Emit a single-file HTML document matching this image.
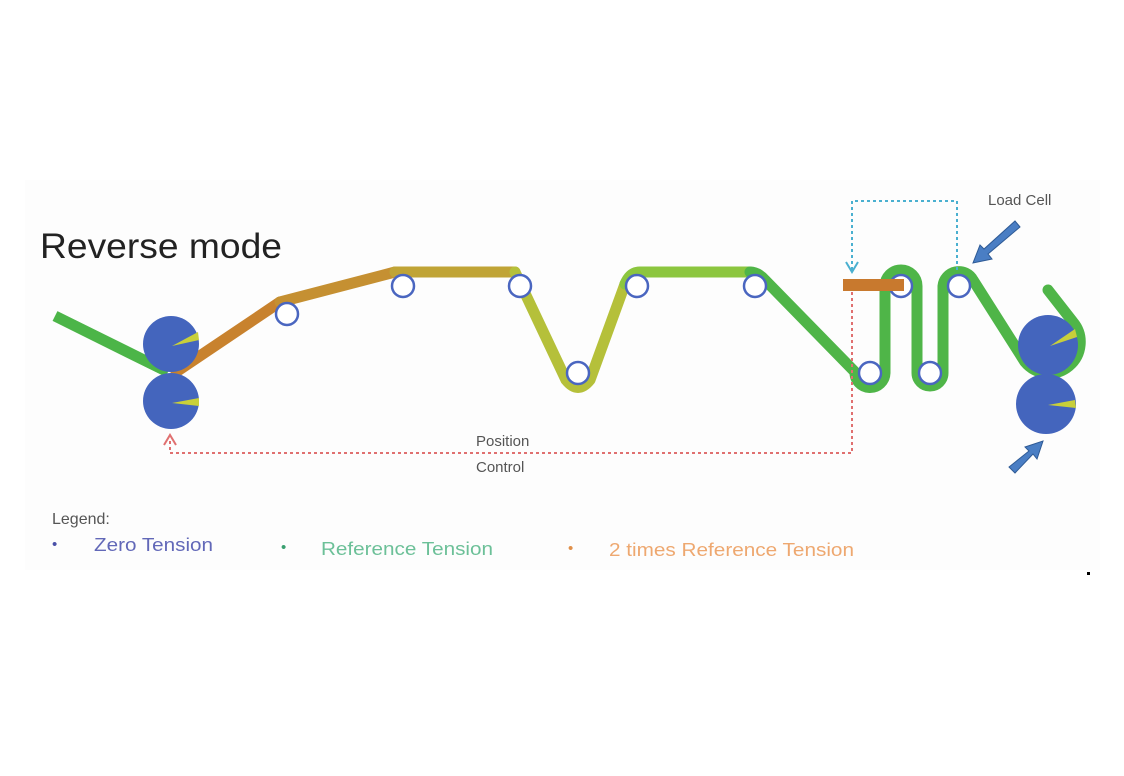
<!DOCTYPE html>
<html><head><meta charset="utf-8"><style>
html,body{margin:0;padding:0;background:#fff;}
svg{display:block}
text{font-family:"Liberation Sans",sans-serif}
</style></head><body>
<svg width="1124" height="776" viewBox="0 0 1124 776" xmlns="http://www.w3.org/2000/svg">
<rect width="1124" height="776" fill="#fff"/>
<rect x="25" y="180" width="1075" height="390" fill="#fdfdfd"/>
<text x="40" y="258" font-size="35" fill="#222" textLength="242" lengthAdjust="spacingAndGlyphs">Reverse mode</text>
<line x1="55" y1="316" x2="168" y2="372" stroke="#4cb548" stroke-width="11"/>
<g fill="none" stroke-width="11" stroke-linejoin="round" stroke-linecap="round">
<polyline points="176,372 280,302" stroke="#c8822e"/>
<polyline points="280,302 395,272" stroke="#c59032"/>
<polyline points="395,272 515,272" stroke="#c0a436"/>
<path d="M515,272 L566,380 Q578,395 590,380 L625,284" stroke="#b5c03a"/>
<path d="M625,284 Q630,272 640,272 L750,272" stroke="#8cc63f"/>
<path d="M750,272 Q758,272 765,280 L855,372 A15,15 0 0 0 885,373 L885,286 A16,16 0 0 1 917,286 L917,373 A13,13 0 0 0 943,373 L943,286 A16,16 0 0 1 973,280 L1025,362 A30,30 0 0 0 1073,322 L1048,290" stroke="#4fb548"/>
</g>
<g fill="#fff" stroke="#4a66c0" stroke-width="2.5">
<circle cx="287" cy="314" r="11"/><circle cx="403" cy="286" r="11"/><circle cx="520" cy="286" r="11"/>
<circle cx="578" cy="373" r="11"/><circle cx="637" cy="286" r="11"/><circle cx="755" cy="286" r="11"/>
<circle cx="870" cy="373" r="11"/><circle cx="901" cy="286" r="11"/><circle cx="930" cy="373" r="11"/><circle cx="959" cy="286" r="11"/>
</g>
<g fill="#4465bd">
<circle cx="171" cy="344" r="28"/><circle cx="171" cy="401" r="28"/>
<circle cx="1048" cy="345" r="30"/><circle cx="1046" cy="404" r="30"/>
</g>
<g fill="#c8cf3a">
<polygon points="172,346 198,332 199,340"/><polygon points="172,403 199,398 199,406"/>
<polygon points="1050,346 1075,329 1077,337"/><polygon points="1048,405 1075,400 1076,408"/>
</g>
<line x1="843" y1="285" x2="904" y2="285" stroke="#c8792e" stroke-width="12"/>
<polyline points="957,270 957,201 852,201 852,270" fill="none" stroke="#4ab0d0" stroke-width="2" stroke-dasharray="3,3"/>
<polyline points="846,262 852,272 858,262" fill="none" stroke="#4ab0d0" stroke-width="2"/>
<polyline points="852,292 852,453 170,453 170,438" fill="none" stroke="#e07070" stroke-width="2" stroke-dasharray="3,3"/>
<polyline points="164,445 170,435 176,445" fill="none" stroke="#e07070" stroke-width="2"/>
<text x="476" y="446" font-size="15" fill="#555">Position</text>
<text x="476" y="472" font-size="15" fill="#555">Control</text>
<text x="988" y="205" font-size="15" fill="#555">Load Cell</text>
<g fill="#4a7ec4" stroke="#2e5a95" stroke-width="1">
<polygon points="1015,221 1020,227 988,254 992,259 973,263 980,245 984,249"/>
<polygon points="1009,467 1015,473 1033,454 1037,459 1043,441 1025,447 1029,451"/>
</g>
<text x="52" y="524" font-size="16" fill="#555">Legend:</text>
<text x="52" y="549" font-size="15" fill="#4a50a8">•</text>
<text x="94" y="551" font-size="18" fill="#6268b8" textLength="119" lengthAdjust="spacingAndGlyphs">Zero Tension</text>
<text x="281" y="552" font-size="15" fill="#3aa070">•</text>
<text x="321" y="555" font-size="18" fill="#6cc098" textLength="172" lengthAdjust="spacingAndGlyphs">Reference Tension</text>
<text x="568" y="553" font-size="15" fill="#e0904a">•</text>
<text x="609" y="556" font-size="18" fill="#eea870" textLength="245" lengthAdjust="spacingAndGlyphs">2 times Reference Tension</text>
<rect x="1087" y="572" width="3" height="3" fill="#000"/>
</svg>
</body></html>
